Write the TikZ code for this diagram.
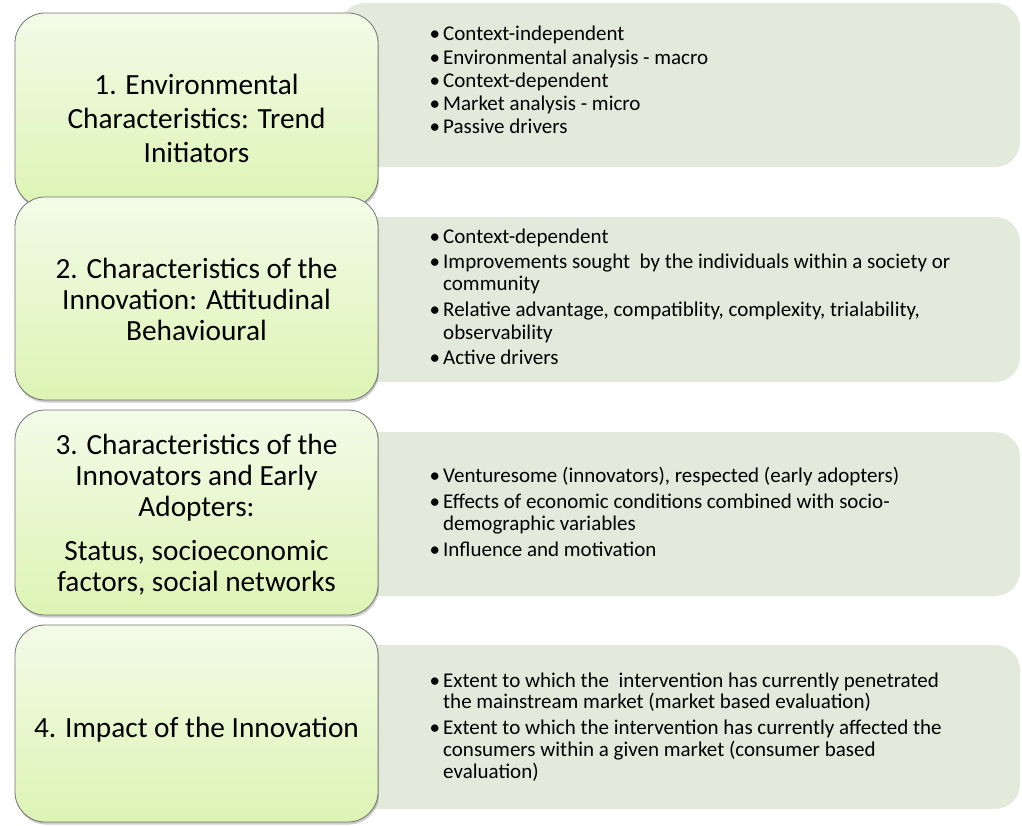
\documentclass[tikz,border=0pt]{standalone}
\usepackage{fontspec}
\setmainfont{Carlito}
\usetikzlibrary{shadows}
\definecolor{panelfill}{RGB}{227,233,219}
\definecolor{lighttop}{RGB}{243,251,232}
\definecolor{greenbot}{RGB}{221,244,180}
\definecolor{edgegray}{RGB}{115,115,115}
% bullet hung to the left of the list text
\newcommand\bul{\llap{\textbullet\hspace{3pt}}}
\tikzset{
  panel/.style={fill=panelfill, draw=none, rounded corners=25pt},
  stage/.style={draw=edgegray, line width=0.8pt, rounded corners=30pt,
    top color=lighttop, bottom color=greenbot,
    drop shadow={shadow xshift=1pt, shadow yshift=-2.5pt, opacity=0.2, fill=black}},
  title/.style={anchor=base, inner sep=0pt, font=\fontsize{29.3}{31}\selectfont},
  item/.style={anchor=base west, inner sep=0pt, font=\fontsize{21}{22}\selectfont},
}
\begin{document}
\begin{tikzpicture}[x=1pt,y=-1pt]
\useasboundingbox[fill=white] (0,0) rectangle (1022,825);

% detail panels on the right
\fill[panel] (340,3) rectangle (1020,167);
\fill[panel] (340,217) rectangle (1020,382);
\fill[panel] (340,432) rectangle (1020,596);
\fill[panel] (340,645) rectangle (1020,809);

% stage boxes on the left, each drawn over the one above
\path[stage] (15,13) rectangle (378,207);
\path[stage] (15,197) rectangle (378,400);
\path[stage] (15,410) rectangle (378,615);
\path[stage] (15,625) rectangle (378,822);

% stage titles
\node[title] (s1a) at (196.5,94)  {1. Environmental};
\node[title] (s1b) at (196.5,128) {Characteristics: Trend};
\node[title] (s1c) at (196.5,162) {Initiators};

\node[title] (s2a) at (196.5,278) {2. Characteristics of the};
\node[title] (s2b) at (196.5,309) {Innovation: Attitudinal};
\node[title] (s2c) at (196.5,340) {Behavioural};

\node[title] (s3a) at (196.5,454) {3. Characteristics of the};
\node[title] (s3b) at (196.5,485) {Innovators and Early};
\node[title] (s3c) at (196.5,516) {Adopters:};
\node[title] (s3d) at (196.5,560) {Status, socioeconomic};
\node[title] (s3e) at (196.5,591) {factors, social networks};

\node[title] (s4a) at (196.5,737) {4. Impact of the Innovation};

% detail lists
\node[item] (d1a) at (443,40)  {\bul Context-independent};
\node[item] (d1b) at (443,64)  {\bul Environmental analysis - macro};
\node[item] (d1c) at (443,87)  {\bul Context-dependent};
\node[item] (d1d) at (443,110) {\bul Market analysis - micro};
\node[item] (d1e) at (443,133) {\bul Passive drivers};

\node[item] (d2a) at (443,243) {\bul Context-dependent};
\node[item] (d2b) at (443,268) {\bul Improvements sought\ \ by the individuals within a society or};
\node[item] (d2c) at (443,290) {community};
\node[item] (d2d) at (443,316) {\bul Relative advantage, compatiblity, complexity, trialability,};
\node[item] (d2e) at (443,339) {observability};
\node[item] (d2f) at (443,364) {\bul Active drivers};

\node[item] (d3a) at (443,482) {\bul Venturesome (innovators), respected (early adopters)};
\node[item] (d3b) at (443,508) {\bul Effects of economic conditions combined with socio-};
\node[item] (d3c) at (443,530) {demographic variables};
\node[item] (d3d) at (443,556) {\bul Influence and motivation};

\node[item] (d4a) at (443,687) {\bul Extent to which the\ \ intervention has currently penetrated};
\node[item] (d4b) at (443,708) {the mainstream market (market based evaluation)};
\node[item] (d4c) at (443,734) {\bul Extent to which the intervention has currently affected the};
\node[item] (d4d) at (443,756) {consumers within a given market (consumer based};
\node[item] (d4e) at (443,778) {evaluation)};
\end{tikzpicture}
\end{document}
